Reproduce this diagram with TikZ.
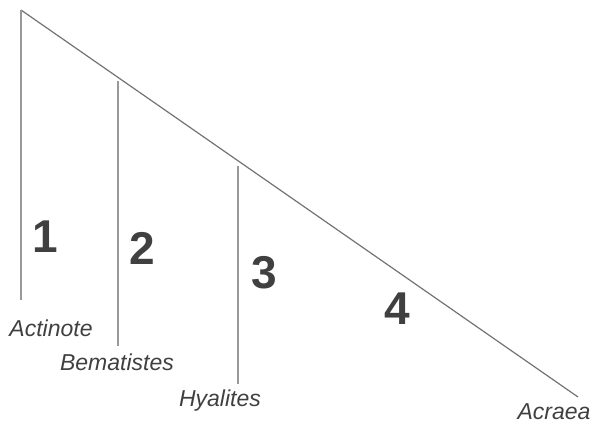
\documentclass[tikz,border=0pt]{standalone}
\usepackage{fontspec}
\setmainfont{Liberation Sans}
\usetikzlibrary{positioning}

\begin{document}
\begin{tikzpicture}[x=1pt,y=-1pt]
\useasboundingbox (0,0) rectangle (592,425);
\tikzset{
  branch/.style={black!40, line width=1.1pt},
  stem/.style={black!55, line width=1.2pt},
  taxon/.style={text=black!75, font=\fontsize{23}{23}\selectfont\itshape, inner sep=0pt},
  clade/.style={text=black!75, font=\fontsize{46}{46}\selectfont\bfseries, inner sep=0pt}
}
\coordinate (root) at (21,10);
\coordinate (tip) at (578,397);
\draw[stem] (root) -- (tip);
\coordinate (top1) at (21,10);
\coordinate (bot1) at (21,300);
\coordinate (top2) at (118,81);
\coordinate (bot2) at (118,346);
\coordinate (top3) at (238,166);
\coordinate (bot3) at (238,384);
\draw[branch] (top1) -- (bot1);
\draw[branch] (top2) -- (bot2);
\draw[branch] (top3) -- (bot3);
\node[taxon] (actinote) at (51,328) {Actinote};
\node[taxon] (bematistes) at (117,362) {Bematistes};
\node[taxon] (hyalites) at (220,401) {Hyalites};
\node[taxon] (acraea) at (554,412) {Acraea};
\node[clade] (c1) at (45,237) {1};
\node[clade] (c2) at (142,248) {2};
\node[clade] (c3) at (264,273) {3};
\node[clade] (c4) at (397,309) {4};
\end{tikzpicture}
\end{document}
